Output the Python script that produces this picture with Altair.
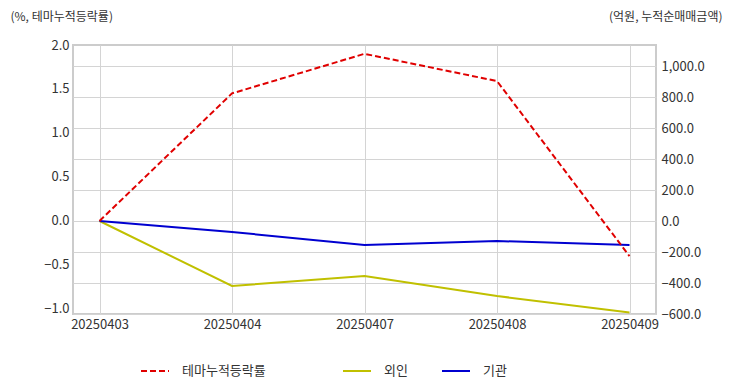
import altair as alt
import pandas as pd

dates = ["20250403", "20250404", "20250407", "20250408", "20250409"]
theme_pct = [0.0, 1.45, 1.90, 1.59, -0.40]
foreign = [0.0, -419.0, -355.0, -484.0, -590.0]
institution = [0.0, -71.0, -155.0, -129.0, -155.0]

df = pd.DataFrame({
    "date": dates,
    "테마누적등락률": theme_pct,
    "외인": foreign,
    "기관": institution,
})

FONT = "Noto Sans CJK KR"
x_enc = alt.X(
    "date:O",
    scale=alt.Scale(type="point", padding=0.2),
    axis=alt.Axis(title=None, labelAngle=0, grid=True, ticks=False, domain=False,
                  labelFontSize=13, labelPadding=4, labelColor="#333",
                  gridColor="#d4d4d4"),
)

red = alt.Chart(df).transform_calculate(s="'테마누적등락률'").mark_line(
    strokeDash=[6, 3], strokeWidth=2
).encode(
    x=x_enc,
    y=alt.Y("테마누적등락률:Q",
            scale=alt.Scale(domain=[-1.057, 2.0], nice=False, zero=False),
            axis=alt.Axis(orient="left", values=[-1.0, -0.5, 0.0, 0.5, 1.0, 1.5, 2.0],
                          format=".1f", grid=False, ticks=False, domain=False,
                          labelFontSize=13, labelPadding=4, labelColor="#333",
                          title="(%, 테마누적등락률)", titleAngle=0, titleAlign="left",
                          titleBaseline="middle", titleX=-63, titleY=-29,
                          titleFontSize=12, titleFontWeight="normal", titleColor="#333")),
    color=alt.Color("s:N",
                    scale=alt.Scale(domain=["테마누적등락률"], range=["#e00000"]),
                    legend=alt.Legend(orient="none", legendX=67, legendY=311,
                                      direction="horizontal", title=None,
                                      symbolType="stroke", symbolSize=784,
                                      symbolStrokeWidth=2, symbolDash=[6, 3],
                                      labelFontSize=13, labelOffset=12,
                                      labelColor="#333")),
)

right = alt.Chart(df).transform_fold(
    ["외인", "기관"], as_=["series", "value"]
).mark_line(strokeWidth=2).encode(
    x=x_enc,
    y=alt.Y("value:Q",
            scale=alt.Scale(domain=[-600, 1135.5], nice=False, zero=False),
            axis=alt.Axis(orient="right",
                          values=[-600, -400, -200, 0, 200, 400, 600, 800, 1000],
                          format=",.1f", grid=True, gridColor="#d4d4d4",
                          ticks=False, domain=False,
                          labelFontSize=13, labelPadding=5, labelColor="#333",
                          title="(억원, 누적순매매금액)", titleAngle=0, titleAlign="right",
                          titleBaseline="middle", titleX=66, titleY=-29,
                          titleFontSize=12, titleFontWeight="normal", titleColor="#333")),
    color=alt.Color("series:N",
                    scale=alt.Scale(domain=["외인", "기관"], range=["#c0c000", "#0000d0"]),
                    legend=alt.Legend(orient="none", legendX=269, legendY=311,
                                      direction="horizontal", title=None,
                                      symbolType="stroke", symbolSize=784,
                                      symbolStrokeWidth=2, columnPadding=30,
                                      labelFontSize=13, labelOffset=12,
                                      labelColor="#333")),
    detail="series:N",
)

chart = alt.layer(right, red).resolve_scale(
    y="independent", color="independent"
).properties(
    width=583, height=269,
    autosize=alt.AutoSizeParams(type="none"),
    padding={"left": 65, "top": 37, "right": 68, "bottom": 70},
).configure(font=FONT).configure_view(
    stroke="#cccccc", strokeWidth=2
)

chart.save("out.html", embed_options={"renderer": "svg", "actions": False})
